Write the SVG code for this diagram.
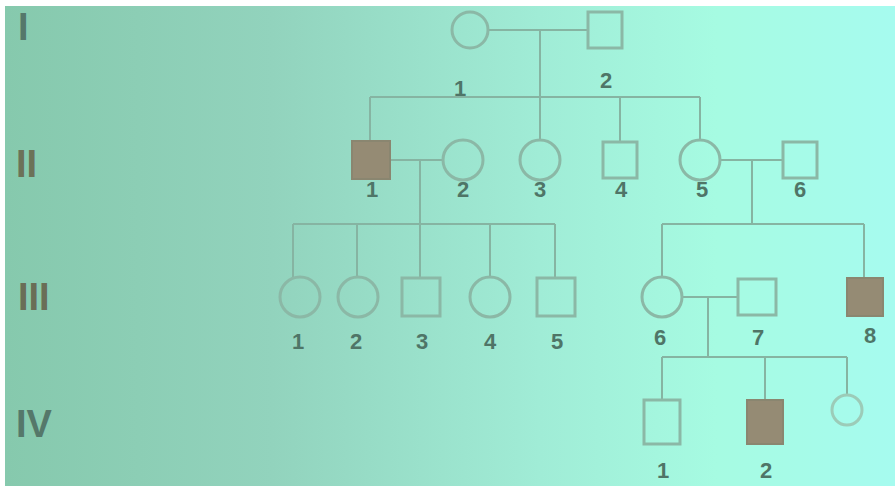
<svg xmlns="http://www.w3.org/2000/svg" width="895" height="486" viewBox="0 0 895 486">
  <defs>
    <linearGradient id="bg" x1="0" y1="0" x2="1" y2="0">
      <stop offset="0" stop-color="#86c9ad"/>
      <stop offset="0.3" stop-color="#92d3bd"/>
      <stop offset="0.6" stop-color="#a0ecd6"/>
      <stop offset="0.8" stop-color="#a6fbe2"/>
      <stop offset="1" stop-color="#a6fbef"/>
    </linearGradient>
    <style>
      .sym { fill: none; stroke: #8bb8a6; stroke-width: 3; }
      .aff { fill: #958b74; stroke: #8a8670; stroke-width: 2; }
      .ln { fill: none; stroke: #86b4a2; stroke-width: 2; }
      .gen { font-family: "Liberation Sans", Arial, sans-serif; font-weight: bold; font-size: 38px; fill: #55786a; }
      .num { font-family: "Liberation Sans", Arial, sans-serif; font-weight: bold; font-size: 22px; fill: #4f7567; text-anchor: middle; }
    </style>
  </defs>

  <rect width="895" height="486" fill="#ffffff"/>
  <rect x="5" y="6" width="890" height="480" fill="url(#bg)"/>

  <!-- generation labels -->
  <g id="generations">
    <text class="gen" x="18" y="40">I</text>
    <text class="gen" x="16" y="177" style="fill:#6c7258">II</text>
    <text class="gen" x="18" y="310" style="fill:#6a6e56">III</text>
    <text class="gen" x="16" y="437">IV</text>
  </g>

  <!-- connectors -->
  <g id="connectors">
    <!-- I-1 x I-2 -->
    <line class="ln" x1="488" y1="30" x2="588" y2="30"/>
    <line class="ln" x1="540" y1="30" x2="540" y2="140"/>
    <line class="ln" x1="370" y1="97" x2="700" y2="97"/>
    <line class="ln" x1="370" y1="97" x2="370" y2="140"/>
    <line class="ln" x1="620" y1="97" x2="620" y2="142"/>
    <line class="ln" x1="700" y1="97" x2="700" y2="140"/>
    <!-- II-1 x II-2 -->
    <line class="ln" x1="390" y1="160" x2="443" y2="160"/>
    <line class="ln" x1="420" y1="160" x2="420" y2="278"/>
    <line class="ln" x1="293" y1="224" x2="555" y2="224"/>
    <line class="ln" x1="293" y1="224" x2="293" y2="277"/>
    <line class="ln" x1="357" y1="224" x2="357" y2="277"/>
    <line class="ln" x1="490" y1="224" x2="490" y2="277"/>
    <line class="ln" x1="555" y1="224" x2="555" y2="278"/>
    <!-- II-5 x II-6 -->
    <line class="ln" x1="720" y1="160" x2="783" y2="160"/>
    <line class="ln" x1="752" y1="160" x2="752" y2="224"/>
    <line class="ln" x1="662" y1="224" x2="864" y2="224"/>
    <line class="ln" x1="662" y1="224" x2="662" y2="277"/>
    <line class="ln" x1="864" y1="224" x2="864" y2="278"/>
    <!-- III-6 x III-7 -->
    <line class="ln" x1="682" y1="297" x2="738" y2="297"/>
    <line class="ln" x1="708" y1="297" x2="708" y2="357"/>
    <line class="ln" x1="662" y1="357" x2="847" y2="357"/>
    <line class="ln" x1="662" y1="357" x2="662" y2="400"/>
    <line class="ln" x1="765" y1="357" x2="765" y2="400"/>
    <line class="ln" x1="847" y1="357" x2="847" y2="395"/>
  </g>

  <!-- generation I -->
  <g id="I-1"><circle class="sym" cx="470" cy="30" r="18"/><text class="num" x="460" y="96">1</text></g>
  <g id="I-2"><rect class="sym" x="588" y="12" width="34" height="36"/><text class="num" x="606" y="88">2</text></g>

  <!-- generation II -->
  <g id="II-1"><rect class="aff" x="352" y="141" width="38" height="38"/><text class="num" x="372" y="197">1</text></g>
  <g id="II-2"><circle class="sym" cx="463" cy="160" r="20"/><text class="num" x="463" y="197">2</text></g>
  <g id="II-3"><circle class="sym" cx="540" cy="160" r="20"/><text class="num" x="540" y="197">3</text></g>
  <g id="II-4"><rect class="sym" x="603" y="142" width="34" height="36"/><text class="num" x="621" y="197">4</text></g>
  <g id="II-5"><circle class="sym" cx="700" cy="160" r="20"/><text class="num" x="702" y="197">5</text></g>
  <g id="II-6"><rect class="sym" x="783" y="142" width="34" height="36"/><text class="num" x="800" y="197">6</text></g>

  <!-- generation III -->
  <g id="III-1"><circle class="sym" cx="300" cy="297" r="20"/><text class="num" x="298" y="349">1</text></g>
  <g id="III-2"><circle class="sym" cx="358" cy="297" r="20"/><text class="num" x="356" y="349">2</text></g>
  <g id="III-3"><rect class="sym" x="402" y="278" width="38" height="38"/><text class="num" x="422" y="349">3</text></g>
  <g id="III-4"><circle class="sym" cx="490" cy="297" r="20"/><text class="num" x="490" y="349">4</text></g>
  <g id="III-5"><rect class="sym" x="537" y="278" width="38" height="38"/><text class="num" x="557" y="349">5</text></g>
  <g id="III-6"><circle class="sym" cx="662" cy="297" r="20"/><text class="num" x="660" y="345">6</text></g>
  <g id="III-7"><rect class="sym" x="738" y="279" width="38" height="36"/><text class="num" x="758" y="345">7</text></g>
  <g id="III-8"><rect class="aff" x="847" y="278" width="36" height="38"/><text class="num" x="870" y="343">8</text></g>

  <!-- generation IV -->
  <g id="IV-1"><rect class="sym" x="644" y="400" width="36" height="44"/><text class="num" x="663" y="478">1</text></g>
  <g id="IV-2"><rect class="aff" x="747" y="400" width="36" height="44"/><text class="num" x="766" y="478">2</text></g>
  <g id="IV-3"><circle class="sym" cx="847" cy="410" r="15" style="stroke:#9ccbb8"/></g>
</svg>
